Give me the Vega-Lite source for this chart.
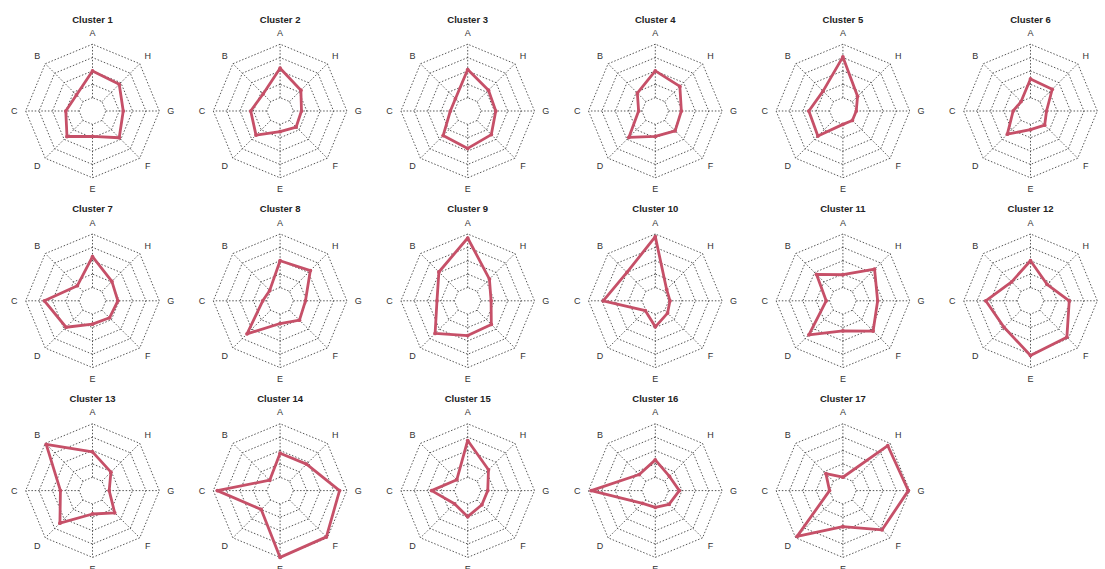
{
  "$schema": "https://vega.github.io/schema/vega-lite/v6.json",
  "background": "white",
  "padding": {"left": 9, "top": 14.5, "right": 0, "bottom": 0},
  "datasets": {
    "scores": [
      {"cluster":1,"axis":"A","value":3.0},{"cluster":1,"axis":"B","value":1.7},{"cluster":1,"axis":"C","value":2.0},{"cluster":1,"axis":"D","value":2.7},{"cluster":1,"axis":"E","value":1.9},{"cluster":1,"axis":"F","value":2.83},{"cluster":1,"axis":"G","value":2.3},{"cluster":1,"axis":"H","value":2.83},
      {"cluster":2,"axis":"A","value":3.2},{"cluster":2,"axis":"B","value":1.8},{"cluster":2,"axis":"C","value":2.2},{"cluster":2,"axis":"D","value":2.55},{"cluster":2,"axis":"E","value":1.55},{"cluster":2,"axis":"F","value":1.7},{"cluster":2,"axis":"G","value":1.6},{"cluster":2,"axis":"H","value":2.2},
      {"cluster":3,"axis":"A","value":3.1},{"cluster":3,"axis":"B","value":1.3},{"cluster":3,"axis":"C","value":1.3},{"cluster":3,"axis":"D","value":2.6},{"cluster":3,"axis":"E","value":2.8},{"cluster":3,"axis":"F","value":2.5},{"cluster":3,"axis":"G","value":2.1},{"cluster":3,"axis":"H","value":2.2},
      {"cluster":4,"axis":"A","value":3.0},{"cluster":4,"axis":"B","value":1.9},{"cluster":4,"axis":"C","value":1.25},{"cluster":4,"axis":"D","value":2.8},{"cluster":4,"axis":"E","value":1.9},{"cluster":4,"axis":"F","value":2.1},{"cluster":4,"axis":"G","value":1.95},{"cluster":4,"axis":"H","value":2.6},
      {"cluster":5,"axis":"A","value":4.05},{"cluster":5,"axis":"B","value":2.1},{"cluster":5,"axis":"C","value":2.55},{"cluster":5,"axis":"D","value":2.65},{"cluster":5,"axis":"E","value":1.0},{"cluster":5,"axis":"F","value":1.0},{"cluster":5,"axis":"G","value":1.0},{"cluster":5,"axis":"H","value":1.55},
      {"cluster":6,"axis":"A","value":2.4},{"cluster":6,"axis":"B","value":1.0},{"cluster":6,"axis":"C","value":1.3},{"cluster":6,"axis":"D","value":2.45},{"cluster":6,"axis":"E","value":1.4},{"cluster":6,"axis":"F","value":1.5},{"cluster":6,"axis":"G","value":1.2},{"cluster":6,"axis":"H","value":2.3},
      {"cluster":7,"axis":"A","value":3.3},{"cluster":7,"axis":"B","value":1.6},{"cluster":7,"axis":"C","value":3.6},{"cluster":7,"axis":"D","value":2.8},{"cluster":7,"axis":"E","value":1.75},{"cluster":7,"axis":"F","value":1.8},{"cluster":7,"axis":"G","value":1.9},{"cluster":7,"axis":"H","value":2.05},
      {"cluster":8,"axis":"A","value":3.0},{"cluster":8,"axis":"B","value":1.1},{"cluster":8,"axis":"C","value":1.3},{"cluster":8,"axis":"D","value":3.5},{"cluster":8,"axis":"E","value":1.7},{"cluster":8,"axis":"F","value":2.05},{"cluster":8,"axis":"G","value":1.9},{"cluster":8,"axis":"H","value":3.2},
      {"cluster":9,"axis":"A","value":4.7},{"cluster":9,"axis":"B","value":3.05},{"cluster":9,"axis":"C","value":2.3},{"cluster":9,"axis":"D","value":3.45},{"cluster":9,"axis":"E","value":2.6},{"cluster":9,"axis":"F","value":2.5},{"cluster":9,"axis":"G","value":1.75},{"cluster":9,"axis":"H","value":2.3},
      {"cluster":10,"axis":"A","value":4.8},{"cluster":10,"axis":"B","value":3.0},{"cluster":10,"axis":"C","value":3.9},{"cluster":10,"axis":"D","value":1.05},{"cluster":10,"axis":"E","value":1.95},{"cluster":10,"axis":"F","value":1.3},{"cluster":10,"axis":"G","value":1.1},{"cluster":10,"axis":"H","value":1.2},
      {"cluster":11,"axis":"A","value":1.95},{"cluster":11,"axis":"B","value":2.8},{"cluster":11,"axis":"C","value":1.25},{"cluster":11,"axis":"D","value":3.6},{"cluster":11,"axis":"E","value":2.25},{"cluster":11,"axis":"F","value":3.2},{"cluster":11,"axis":"G","value":2.6},{"cluster":11,"axis":"H","value":3.35},
      {"cluster":12,"axis":"A","value":3.0},{"cluster":12,"axis":"B","value":2.0},{"cluster":12,"axis":"C","value":3.35},{"cluster":12,"axis":"D","value":2.8},{"cluster":12,"axis":"E","value":4.1},{"cluster":12,"axis":"F","value":3.85},{"cluster":12,"axis":"G","value":2.9},{"cluster":12,"axis":"H","value":1.75},
      {"cluster":13,"axis":"A","value":2.9},{"cluster":13,"axis":"B","value":4.9},{"cluster":13,"axis":"C","value":2.4},{"cluster":13,"axis":"D","value":3.45},{"cluster":13,"axis":"E","value":1.75},{"cluster":13,"axis":"F","value":2.35},{"cluster":13,"axis":"G","value":1.25},{"cluster":13,"axis":"H","value":1.95},
      {"cluster":14,"axis":"A","value":2.8},{"cluster":14,"axis":"B","value":1.1},{"cluster":14,"axis":"C","value":4.7},{"cluster":14,"axis":"D","value":2.0},{"cluster":14,"axis":"E","value":5.0},{"cluster":14,"axis":"F","value":4.9},{"cluster":14,"axis":"G","value":4.45},{"cluster":14,"axis":"H","value":2.8},
      {"cluster":15,"axis":"A","value":3.75},{"cluster":15,"axis":"B","value":1.15},{"cluster":15,"axis":"C","value":2.7},{"cluster":15,"axis":"D","value":1.4},{"cluster":15,"axis":"E","value":1.95},{"cluster":15,"axis":"F","value":1.5},{"cluster":15,"axis":"G","value":1.5},{"cluster":15,"axis":"H","value":2.2},
      {"cluster":16,"axis":"A","value":2.3},{"cluster":16,"axis":"B","value":1.7},{"cluster":16,"axis":"C","value":4.8},{"cluster":16,"axis":"D","value":1.35},{"cluster":16,"axis":"E","value":1.25},{"cluster":16,"axis":"F","value":1.45},{"cluster":16,"axis":"G","value":1.8},{"cluster":16,"axis":"H","value":1.5},
      {"cluster":17,"axis":"A","value":1.0},{"cluster":17,"axis":"B","value":1.8},{"cluster":17,"axis":"C","value":1.0},{"cluster":17,"axis":"D","value":4.85},{"cluster":17,"axis":"E","value":2.7},{"cluster":17,"axis":"F","value":4.15},{"cluster":17,"axis":"G","value":4.9},{"cluster":17,"axis":"H","value":4.75}
    ],
    "axes": [
      {"axis":"A","i":0},{"axis":"B","i":1},{"axis":"C","i":2},{"axis":"D","i":3},
      {"axis":"E","i":4},{"axis":"F","i":5},{"axis":"G","i":6},{"axis":"H","i":7}
    ],
    "rings": [
      {"ring":1,"k":0},{"ring":1,"k":1},{"ring":1,"k":2},{"ring":1,"k":3},{"ring":1,"k":4},{"ring":1,"k":5},{"ring":1,"k":6},{"ring":1,"k":7},
      {"ring":2,"k":0},{"ring":2,"k":1},{"ring":2,"k":2},{"ring":2,"k":3},{"ring":2,"k":4},{"ring":2,"k":5},{"ring":2,"k":6},{"ring":2,"k":7},
      {"ring":3,"k":0},{"ring":3,"k":1},{"ring":3,"k":2},{"ring":3,"k":3},{"ring":3,"k":4},{"ring":3,"k":5},{"ring":3,"k":6},{"ring":3,"k":7},
      {"ring":4,"k":0},{"ring":4,"k":1},{"ring":4,"k":2},{"ring":4,"k":3},{"ring":4,"k":4},{"ring":4,"k":5},{"ring":4,"k":6},{"ring":4,"k":7},
      {"ring":5,"k":0},{"ring":5,"k":1},{"ring":5,"k":2},{"ring":5,"k":3},{"ring":5,"k":4},{"ring":5,"k":5},{"ring":5,"k":6},{"ring":5,"k":7}
    ]
  },
  "data": {"name": "scores"},
  "columns": 6,
  "spacing": {"column": 20.6, "row": 9.8},
  "facet": {
    "field": "cluster",
    "type": "ordinal",
    "title": null,
    "header": {
      "title": null,
      "labelExpr": "'Cluster ' + datum.value",
      "labelFont": "Liberation Sans",
      "labelFontWeight": "bold",
      "labelFontSize": 9.5,
      "labelColor": "#222",
      "labelPadding": 4.7
    }
  },
  "spec": {
    "width": 167,
    "height": 165,
    "layer": [
      {
        "data": {"name": "rings"},
        "transform": [
          {"calculate": "datum.ring / 5", "as": "r"},
          {"calculate": "-datum.r * sin(datum.k * PI / 4)", "as": "x"},
          {"calculate": "datum.r * cos(datum.k * PI / 4)", "as": "y"}
        ],
        "mark": {"type": "line", "interpolate": "linear-closed", "color": "#444", "strokeWidth": 0.9, "strokeDash": [1.5, 1.8]},
        "encoding": {
          "x": {"field": "x", "type": "quantitative", "scale": {"domain": [-1.25, 1.25], "nice": false, "zero": false}, "axis": null},
          "y": {"field": "y", "type": "quantitative", "scale": {"domain": [-1.25, 1.22], "nice": false, "zero": false}, "axis": null},
          "detail": {"field": "ring"},
          "order": {"field": "k"}
        }
      },
      {
        "data": {"name": "axes"},
        "transform": [
          {"calculate": "-0.2 * sin(datum.i * PI / 4)", "as": "x1"},
          {"calculate": "0.2 * cos(datum.i * PI / 4)", "as": "y1"},
          {"calculate": "-sin(datum.i * PI / 4)", "as": "x2"},
          {"calculate": "cos(datum.i * PI / 4)", "as": "y2"}
        ],
        "mark": {"type": "rule", "color": "#444", "strokeWidth": 0.9, "strokeDash": [1.5, 1.8]},
        "encoding": {
          "x": {"field": "x1", "type": "quantitative", "scale": {"domain": [-1.25, 1.25], "nice": false, "zero": false}, "axis": null},
          "y": {"field": "y1", "type": "quantitative", "scale": {"domain": [-1.25, 1.22], "nice": false, "zero": false}, "axis": null},
          "x2": {"field": "x2"},
          "y2": {"field": "y2"}
        }
      },
      {
        "data": {"name": "axes"},
        "transform": [
          {"calculate": "-1.17 * sin(datum.i * PI / 4)", "as": "lx"},
          {"calculate": "1.17 * cos(datum.i * PI / 4)", "as": "ly"}
        ],
        "mark": {"type": "text", "font": "Liberation Sans", "fontSize": 9, "color": "#333", "align": "center", "baseline": "middle"},
        "encoding": {
          "x": {"field": "lx", "type": "quantitative", "scale": {"domain": [-1.25, 1.25], "nice": false, "zero": false}, "axis": null},
          "y": {"field": "ly", "type": "quantitative", "scale": {"domain": [-1.25, 1.22], "nice": false, "zero": false}, "axis": null},
          "text": {"field": "axis"}
        }
      },
      {
        "transform": [
          {"calculate": "indexof('ABCDEFGH', datum.axis)", "as": "i"},
          {"calculate": "datum.value / 5", "as": "r"},
          {"calculate": "-datum.r * sin(datum.i * PI / 4)", "as": "x"},
          {"calculate": "datum.r * cos(datum.i * PI / 4)", "as": "y"}
        ],
        "mark": {"type": "line", "interpolate": "linear-closed", "color": "#c65068", "strokeWidth": 2.8, "strokeJoin": "round"},
        "encoding": {
          "x": {"field": "x", "type": "quantitative", "scale": {"domain": [-1.25, 1.25], "nice": false, "zero": false}, "axis": null},
          "y": {"field": "y", "type": "quantitative", "scale": {"domain": [-1.25, 1.22], "nice": false, "zero": false}, "axis": null},
          "order": {"field": "i"}
        }
      },
      {
        "transform": [
          {"calculate": "indexof('ABCDEFGH', datum.axis)", "as": "i"},
          {"calculate": "datum.value / 5", "as": "r"},
          {"calculate": "-datum.r * sin(datum.i * PI / 4)", "as": "x"},
          {"calculate": "datum.r * cos(datum.i * PI / 4)", "as": "y"}
        ],
        "mark": {"type": "point", "filled": true, "color": "#c65068", "size": 14, "opacity": 1},
        "encoding": {
          "x": {"field": "x", "type": "quantitative", "scale": {"domain": [-1.25, 1.25], "nice": false, "zero": false}, "axis": null},
          "y": {"field": "y", "type": "quantitative", "scale": {"domain": [-1.25, 1.22], "nice": false, "zero": false}, "axis": null}
        }
      }
    ]
  },
  "config": {"view": {"stroke": null}}
}
